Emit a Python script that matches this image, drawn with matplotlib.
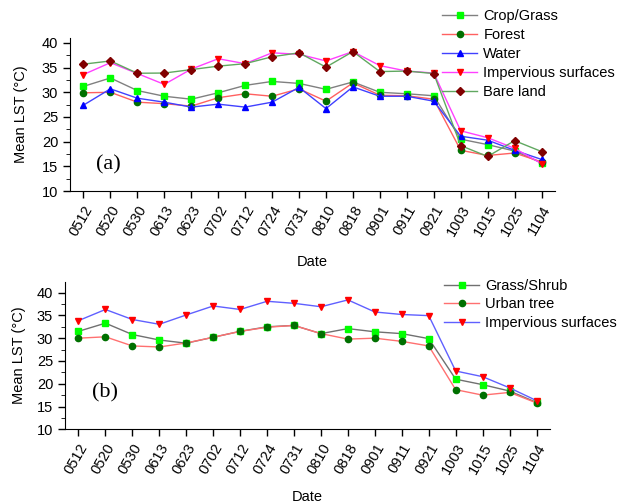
"""Mean land surface temperature by land cover type, two panels."""

import numpy as np
import matplotlib.pyplot as plt
from matplotlib.ticker import MultipleLocator

plt.rcParams["font.family"] = ["Liberation Sans", "DejaVu Sans"]

# dates shared by both panels
dates = ["0512", "0520", "0530", "0613", "0623", "0702", "0712", "0724", "0731",
         "0810", "0818", "0901", "0911", "0921", "1003", "1015", "1025", "1104"]

# panel (a): land cover classes
crop_grass = [31.2, 32.9, 30.35, 29.2, 28.6, 29.9, 31.4, 32.2, 31.8,
              30.6, 32.1, 30.0, 29.7, 29.3, 20.5, 19.4, 18.1, 15.7]
forest = [29.9, 30.0, 28.0, 27.7, 27.2, 28.9, 29.7, 29.2, 30.7,
          28.2, 31.9, 29.4, 29.3, 28.6, 18.25, 17.2, 17.7, 15.9]
water = [27.4, 30.7, 28.8, 28.0, 27.0, 27.6, 27.0, 28.0, 31.0,
         26.7, 31.1, 29.2, 29.2, 28.2, 21.1, 20.3, 18.25, 16.4]
impervious_a = [33.6, 36.0, 33.8, 31.6, 34.7, 36.8, 35.8, 38.0, 37.7,
                36.35, 38.25, 35.4, 34.3, 33.9, 22.2, 20.8, 18.65, 15.55]
bare_land = [35.7, 36.35, 33.86, 33.9, 34.6, 35.3, 35.8, 37.2, 38.0,
             35.1, 38.25, 34.2, 34.3, 33.8, 19.2, 17.0, 20.2, 18.0]

# panel (b): urban classes
grass_shrub = [31.5, 33.3, 30.8, 29.6, 28.9, 30.2, 31.5, 32.5, 32.8,
               31.0, 32.1, 31.4, 31.0, 29.9, 21.0, 19.8, 18.4, 15.9]
urban_tree = [30.0, 30.3, 28.3, 28.07, 28.95, 30.2, 31.5, 32.4, 32.8,
              31.0, 29.8, 30.0, 29.3, 28.3, 18.7, 17.5, 18.1, 15.8]
impervious_b = [33.85, 36.3, 34.1, 33.05, 35.1, 37.07, 36.3, 38.1, 37.65,
                36.9, 38.4, 35.75, 35.2, 34.95, 22.8, 21.55, 19.1, 16.3]

x = np.arange(len(dates))

fig = plt.figure(figsize=(6.19, 5.04), dpi=100)
ax_a = fig.add_axes([0.1131, 0.621, 0.7835, 0.3036])
ax_b = fig.add_axes([0.105, 0.1482, 0.7835, 0.2929])

ms = 4.5
lw = 1.0

ax_a.plot(x, crop_grass, color="#808080", lw=lw, marker="s", ms=ms,
          mfc="#00ff00", mec="#00ff00", label="Crop/Grass")
ax_a.plot(x, forest, color="#ff6060", lw=lw, marker="o", ms=ms,
          mfc="#007000", mec="#007000", label="Forest")
ax_a.plot(x, water, color="#4040ff", lw=lw, marker="^", ms=ms + 0.5,
          mfc="#0000ff", mec="#0000ff", label="Water")
ax_a.plot(x, impervious_a, color="#ff40ff", lw=lw, marker="v", ms=ms + 0.5,
          mfc="#ff0000", mec="#ff0000", label="Impervious surfaces")
ax_a.plot(x, bare_land, color="#60a860", lw=lw, marker="D", ms=ms,
          mfc="#800000", mec="#800000", label="Bare land")

ax_b.plot(x, grass_shrub, color="#707070", lw=lw, marker="s", ms=ms,
          mfc="#00ff00", mec="#00ff00", label="Grass/Shrub")
ax_b.plot(x, urban_tree, color="#ff7070", lw=lw, marker="o", ms=ms,
          mfc="#007000", mec="#007000", label="Urban tree")
ax_b.plot(x, impervious_b, color="#6060ff", lw=lw, marker="v", ms=ms + 0.5,
          mfc="#ff0000", mec="#ff0000", label="Impervious surfaces")

# top panel needs a bit more room under the ticks than the bottom one
for ax, top, xpad, ypad in [(ax_a, 41, 12, 10), (ax_b, 42.4, 10, 8)]:
    ax.set_xlim(-0.5, 17.5)
    ax.set_ylim(10, top)
    ax.spines["top"].set_visible(False)
    ax.spines["right"].set_visible(False)
    ax.set_xticks(x)
    ax.set_xticklabels(dates, rotation=60, ha="right", rotation_mode="anchor",
                       fontsize=10.5)
    ax.yaxis.set_major_locator(MultipleLocator(5))
    ax.yaxis.set_minor_locator(MultipleLocator(2.5))
    ax.tick_params(axis="both", direction="out", length=5, width=1,
                   labelsize=10.5, color="black")
    ax.tick_params(axis="y", which="minor", direction="out", length=3)
    ax.set_xlabel("Date", fontsize=10.5, labelpad=xpad)
    ax.set_ylabel("Mean LST (\u00b0C)", fontsize=10.5, labelpad=ypad)

ax_a.text(0.45, 15.2, "(a)", family="Liberation Serif", fontsize=16,
          va="center", ha="left")
ax_b.text(0.5, 17.9, "(b)", family="Liberation Serif", fontsize=16,
          va="center", ha="left")

ax_a.legend(loc="upper left", bbox_to_anchor=(0.756, 1.225), frameon=False,
            fontsize=10.5, handlelength=2.4, handletextpad=0.4,
            labelspacing=0.34, borderaxespad=0)
ax_b.legend(loc="upper left", bbox_to_anchor=(0.77, 1.06), frameon=False,
            fontsize=10.5, handlelength=2.4, handletextpad=0.4,
            labelspacing=0.32, borderaxespad=0)

plt.savefig("out.png", dpi=100)
